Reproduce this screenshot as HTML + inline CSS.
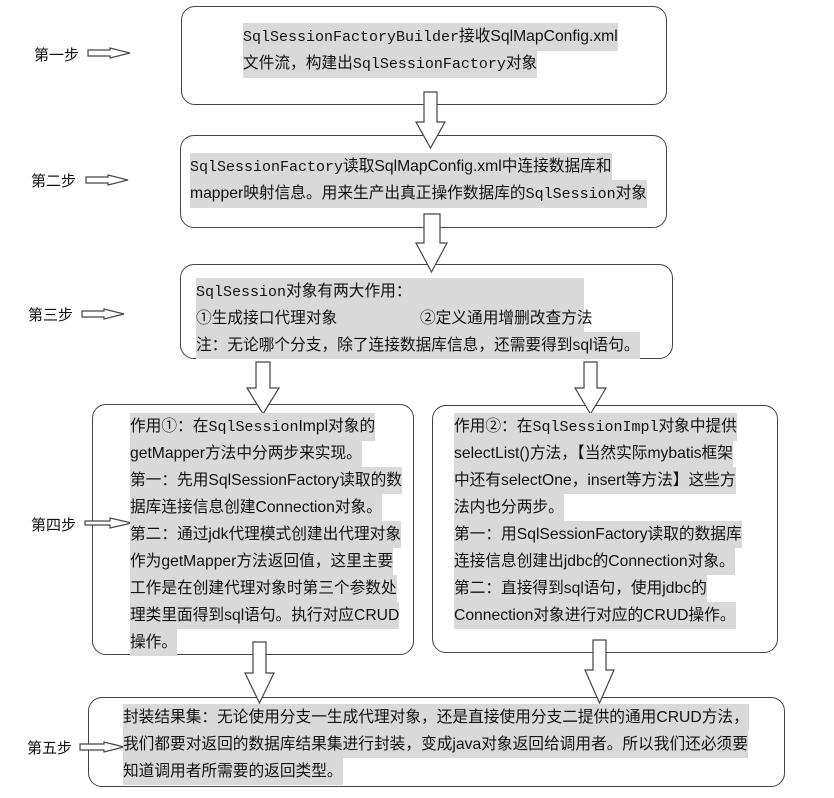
<!DOCTYPE html>
<html><head><meta charset="utf-8"><style>
body{margin:0;width:834px;height:798px;background:#fff;position:relative;overflow:hidden;font-family:"Liberation Sans","Noto Sans CJK SC",sans-serif;color:#111;}
.box{position:absolute;border:1.3px solid #444;border-radius:14px;box-sizing:border-box;background:#fff}
.t{position:absolute;font-size:15.7px;white-space:nowrap;}
.t div{height:27px;line-height:27px;}
.t span{background:#d9d9d9;display:inline-block;line-height:27px;}
.m{font-family:"Liberation Mono",monospace;font-size:15px;}
.lab{position:absolute;font-size:15px;}
svg{position:absolute;left:0;top:0}
</style></head><body>
<div class="box" style="left:181px;top:6px;width:486px;height:99px"></div>
<div class="box" style="left:180px;top:135px;width:487px;height:93px"></div>
<div class="box" style="left:180px;top:264px;width:493px;height:95px"></div>
<div class="box" style="left:92px;top:404px;width:322px;height:251px"></div>
<div class="box" style="left:432px;top:405px;width:346px;height:248px"></div>
<div class="box" style="left:88px;top:697px;width:697px;height:90px"></div>

<svg width="834" height="798">
<g fill="#fff" stroke="#444" stroke-width="1.2">
<polygon points="424,92 437,92 437,122 445,122 430.5,148 416,122 424,122"/>
<polygon points="424,214 440,214 440,243 447,243 431.5,272 416,243 424,243"/>
<polygon points="256,362 270,362 270,388 279,388 263,414 247,388 256,388"/>
<polygon points="584,362 597,362 597,388 606,388 590.5,414 575,388 584,388"/>
<polygon points="253,642 266,642 266,673 274,673 259.5,703 245,673 253,673"/>
<polygon points="593,640 606,640 606,670 614,670 599.5,703 585,670 593,670"/>
<polygon points="88,50 110,50 110,48 130,53 110,58 110,56 88,56"/>
<polygon points="86,177 108,177 108,175 128,180 108,185 108,183 86,183"/>
<polygon points="82,311 104,311 104,309 124,314 104,319 104,317 82,317"/>
<polygon points="85,521 110,521 110,518 132,523 110,528 110,525 85,525"/>
<polygon points="80,744 104,744 104,742 124,747 104,752 104,750 80,750"/>
</g></svg>

<div class="lab" style="left:34px;top:44px">第一步</div>
<div class="lab" style="left:31px;top:170px">第二步</div>
<div class="lab" style="left:28px;top:304px">第三步</div>
<div class="lab" style="left:31px;top:514px">第四步</div>
<div class="lab" style="left:27px;top:737px">第五步</div>

<div class="t" style="left:243px;top:23px">
<div><span><span class="m">SqlSessionFactoryBuilder</span>接收SqlMapConfig.xml</span></div>
<div><span>文件流，构建出<span class="m">SqlSessionFactory</span>对象</span></div>
</div>
<div class="t" style="left:190px;top:153px">
<div><span><span class="m">SqlSessionFactory</span>读取SqlMapConfig.xml中连接数据库和</span></div>
<div><span>mapper映射信息。用来生产出真正操作数据库的<span class="m">SqlSession</span>对象</span></div>
</div>
<div class="t" style="left:196px;top:278px">
<div><span style="width:388px"><span class="m">SqlSession</span>对象有两大作用：</span></div>
<div><span style="width:388px">①生成接口代理对象&nbsp;&nbsp;&nbsp;&nbsp;&nbsp;&nbsp;&nbsp;&nbsp;&nbsp;&nbsp;&nbsp;&nbsp;&nbsp;&nbsp;&nbsp;&nbsp;&nbsp;&nbsp;&nbsp;②定义通用增删改查方法</span></div>
<div><span>注：无论哪个分支，除了连接数据库信息，还需要得到sql语句。</span></div>
</div>
<div class="t" style="left:130px;top:413px">
<div><span>作用①：在<span class="m">SqlSession</span>Impl对象的</span></div>
<div><span>getMapper方法中分两步来实现。</span></div>
<div><span>第一：先用SqlSessionFactory读取的数</span></div>
<div><span>据库连接信息创建Connection对象。</span></div>
<div><span>第二：通过jdk代理模式创建出代理对象</span></div>
<div><span>作为getMapper方法返回值，这里主要</span></div>
<div><span>工作是在创建代理对象时第三个参数处</span></div>
<div><span>理类里面得到sql语句。执行对应CRUD</span></div>
<div><span>操作。</span></div>
</div>
<div class="t" style="left:454px;top:413px">
<div><span>作用②：在<span class="m">SqlSessionImpl</span>对象中提供</span></div>
<div><span>selectList()方法，【当然实际mybatis框架</span></div>
<div><span>中还有selectOne，insert等方法】这些方</span></div>
<div><span>法内也分两步。</span></div>
<div><span>第一：用SqlSessionFactory读取的数据库</span></div>
<div><span>连接信息创建出jdbc的Connection对象。</span></div>
<div><span>第二：直接得到sql语句，使用jdbc的</span></div>
<div><span>Connection对象进行对应的CRUD操作。</span></div>
</div>
<div class="t" style="left:123px;top:704px">
<div><span>封装结果集：无论使用分支一生成代理对象，还是直接使用分支二提供的通用CRUD方法，</span></div>
<div><span>我们都要对返回的数据库结果集进行封装，变成java对象返回给调用者。所以我们还必须要</span></div>
<div><span>知道调用者所需要的返回类型。</span></div>
</div>
</body></html>
